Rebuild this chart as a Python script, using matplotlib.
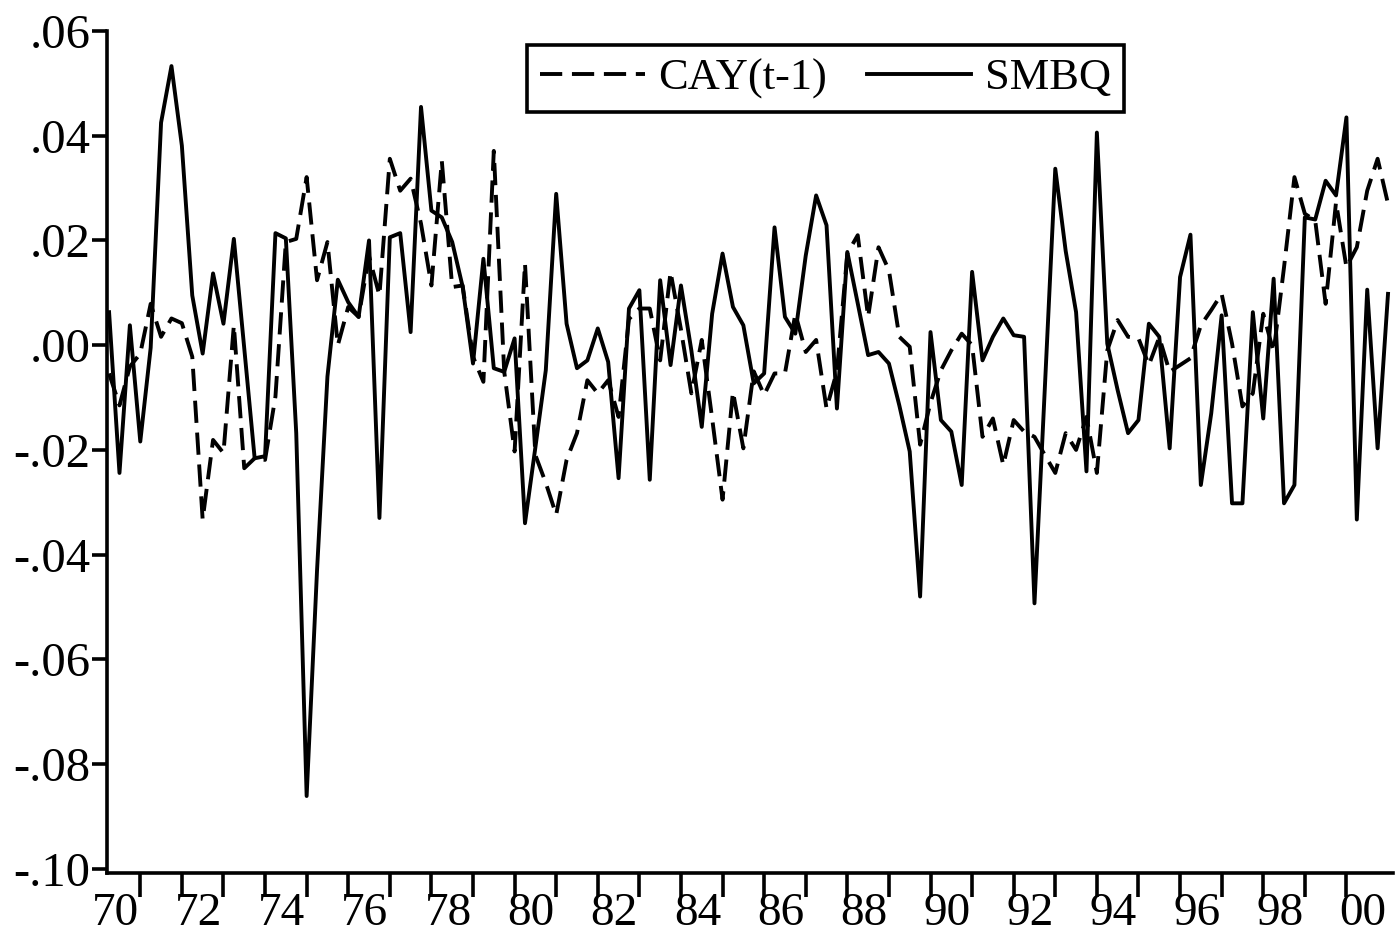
import numpy as np
import matplotlib
matplotlib.use("Agg")
import matplotlib.pyplot as plt
from matplotlib.ticker import FixedLocator, FuncFormatter

# quarterly data 1970Q1 - 2000Q4
start_year = 1970
n_obs = 124

cay_lag = [
    -.0054, -.0115, -.0041, -.0016, .0079, .0016, .0051, .0042,
    -.0022, -.0333, -.0181, -.0206, .0038, -.0235, -.0216, -.0219,
    -.0098, .0197, .0203, .0321, .0124, .0197, .0000, .0073,
    .0054, .0170, .0095, .0356, .0295, .0318, .0232, .0114,
    .0352, .0111, .0114, -.0022, -.0070, .0371, -.0050, -.0203,
    .0156, -.0210, -.0263, -.0324, -.0219, -.0168, -.0067, -.0092,
    -.0067, -.0137, .0050, .0070, .0070, -.0029, .0140, .0030,
    -.0092, .0010, -.0140, -.0295, -.0089, -.0197, -.0050, -.0095,
    -.0054, -.0054, .0060, -.0013, .0010, -.0121, -.0050, .0175,
    .0210, .0054, .0187, .0143, .0016, -.0003, -.0190, -.0110,
    -.0048, -.0010, .0022, .0000, -.0175, -.0140, -.0229, -.0143,
    -.0165, -.0175, -.0210, -.0244, -.0168, -.0200, -.0137, -.0244,
    -.0010, .0048, .0016, .0013, -.0038, .0015, -.0051, -.0038,
    -.0025, .0038, .0067, .0098, .0003, -.0117, -.0092, .0060,
    -.0013, .0149, .0321, .0251, .0238, .0079, .0273, .0149,
    .0187, .0295, .0356, .0270,
]

smbq = [
    .0063, -.0244, .0038, -.0184, -.0005, .0425, .0533, .0381,
    .0095, -.0016, .0137, .0041, .0203, -.0006, -.0216, -.0212,
    .0214, .0204, -.0168, -.0861, -.0430, -.0060, .0125, .0082,
    .0054, .0200, -.0330, .0206, .0214, .0025, .0455, .0257,
    .0244, .0197, .0112, -.0035, .0165, -.0044, -.0051, .0013,
    -.0340, -.0195, -.0048, .0289, .0041, -.0044, -.0029, .0032,
    -.0032, -.0254, .0070, .0105, -.0257, .0124, -.0038, .0114,
    -.0010, -.0156, .0060, .0175, .0073, .0038, -.0073, -.0054,
    .0225, .0054, .0022, .0171, .0286, .0229, -.0121, .0178,
    .0080, -.0019, -.0013, -.0035, -.0115, -.0203, -.0480, .0025,
    -.0143, -.0165, -.0267, .0140, -.0029, .0016, .0051, .0019,
    .0016, -.0493, -.0080, .0337, .0180, .0063, -.0241, .0406,
    .0003, -.0086, -.0168, -.0143, .0041, .0016, -.0197, .0130,
    .0211, -.0267, -.0130, .0057, -.0302, -.0302, .0063, -.0140,
    .0127, -.0302, -.0267, .0244, .0240, .0314, .0286, .0435,
    -.0333, .0106, -.0197, .0098,
]

year_labels = ["70", "72", "74", "76", "78", "80", "82", "84",
               "86", "88", "90", "92", "94", "96", "98", "00"]
y_ticks = [-.10, -.08, -.06, -.04, -.02, .00, .02, .04, .06]

t = start_year + np.arange(n_obs) / 4.0

plt.rcParams['font.family'] = ['Liberation Serif', 'DejaVu Serif']
plt.rcParams['lines.scale_dashes'] = False

fig = plt.figure(figsize=(13.97, 9.36), dpi=100)
ax = fig.add_axes([107 / 1397, 1 - 873 / 936, (1393 - 107) / 1397, (873 - 31) / 936])

ax.plot(t, cay_lag, color='black', lw=2.8, dashes=(16, 7), label='CAY(t-1)')
ax.plot(t, smbq, color='black', lw=2.8, label='SMBQ')

ax.set_xlim(start_year - 0.05, start_year + (n_obs - 1) / 4 + 0.12)
ax.set_ylim(-0.1008, 0.06)

for side in ['top', 'right']:
    ax.spines[side].set_visible(False)
for side in ['left', 'bottom']:
    ax.spines[side].set_linewidth(2.6)

# ticks: one per year, labels every other year
ax.xaxis.set_major_locator(FixedLocator([y + 0.75 for y in range(1970, 2000)]))
ax.xaxis.set_major_formatter(FuncFormatter(lambda v, p: ""))
lab_pos = [1970 + 2 * k + 0.15 for k in range(len(year_labels))]
ax.xaxis.set_minor_locator(FixedLocator(lab_pos))
ax.set_xticklabels(year_labels, minor=True)
ax.tick_params(axis='x', which='major', direction='out', length=17, width=2.6)
ax.tick_params(axis='x', which='minor', length=0, pad=14, labelsize=34)

ax.set_yticks(y_ticks)
ax.yaxis.set_major_formatter(FuncFormatter(
    lambda v, p: ("-" if v < -1e-9 else "") + (".%02d" % round(abs(v) * 100))))
ax.tick_params(axis='y', direction='out', length=11, width=2.6, labelsize=35, pad=1)

leg = ax.legend(loc='upper left', bbox_to_anchor=(527 / 1397, 1 - 45 / 936),
                bbox_transform=fig.transFigure, ncol=2, fontsize=32,
                frameon=True, fancybox=False, framealpha=1, handlelength=2.35,
                handletextpad=0.3, columnspacing=0.9, borderpad=0.3,
                borderaxespad=0)
leg.get_frame().set_edgecolor('black')
leg.get_frame().set_linewidth(2.6)

fig.savefig("out.png", dpi=100)
